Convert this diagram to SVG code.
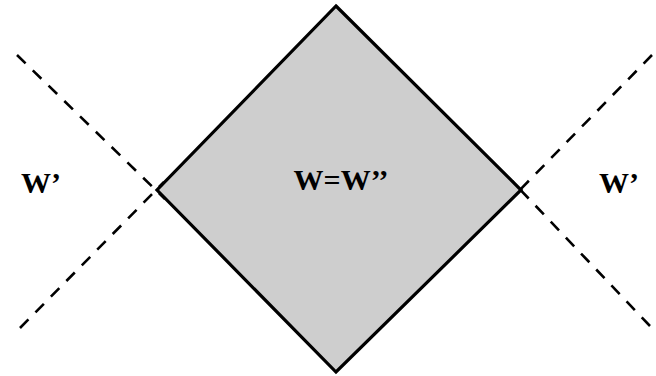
<svg xmlns="http://www.w3.org/2000/svg" width="656" height="376" viewBox="0 0 656 376">
  <style>
    .dash { fill: none; stroke: #000; stroke-width: 2.6; stroke-dasharray: 12 10; }
    .region { fill: #cecece; stroke: #000; stroke-width: 3.2; stroke-linejoin: miter; }
    .lbl { font-family: "Liberation Serif", "Times New Roman", serif; font-size: 30px; font-weight: bold; fill: #000; }
  </style>
  <rect width="656" height="376" fill="#fff"/>
  <g id="connectors">
    <line class="dash" x1="17" y1="55" x2="165" y2="199"/>
    <line class="dash" x1="20" y1="328" x2="164" y2="182"/>
    <line class="dash" x1="652" y1="55" x2="512" y2="198"/>
    <line class="dash" x1="650" y1="326" x2="512" y2="181"/>
  </g>
  <g id="core">
    <polygon class="region" points="336,6 521,190 336,372 157,190"/>
    <text class="lbl" x="341" y="190" text-anchor="middle">W=W’’</text>
  </g>
  <g id="left-wedge">
    <text class="lbl" x="21" y="193">W’</text>
  </g>
  <g id="right-wedge">
    <text class="lbl" x="599" y="193">W’</text>
  </g>
</svg>
